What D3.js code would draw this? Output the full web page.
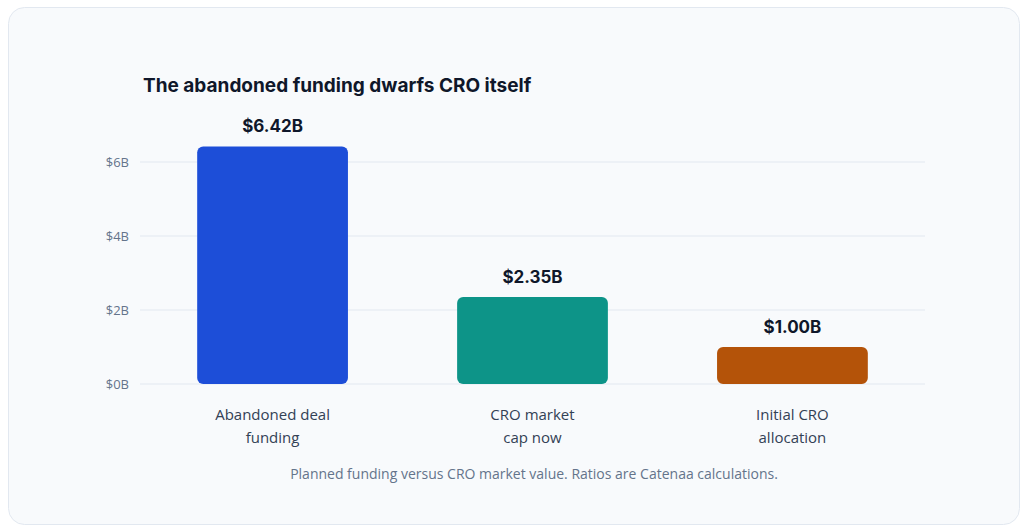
<!DOCTYPE html>
<html><head><meta charset="utf-8">
<script src="https://cdn.jsdelivr.net/npm/d3@7"></script>
<style>body{margin:0;background:#fff;font-family:"Open Sans",sans-serif}</style>
</head><body><svg id="c" width="1024" height="531"></svg>
<script>
const categories=[["Abandoned deal","funding"],["CRO market","cap now"],["Initial CRO","allocation"]];
const values=[6.42,2.35,1.00];
const valueLabels=["$6.42B","$2.35B","$1.00B"];
const colors=["#1d4ed8","#0d9488","#b45309"];
const ticks=[0,2,4,6];
const svg=d3.select("#c");
svg.append("rect").attr("x",8.5).attr("y",7.5).attr("width",1011).attr("height",517).attr("rx",16).attr("fill","#f8fafc").attr("stroke","#e2e8f0");
svg.append("text").attr("x",143).attr("y",92).attr("font-size",19).attr("font-weight",700).attr("fill","#0f172a").attr("font-family","Inter, sans-serif").text("The abandoned funding dwarfs CRO itself");
const x=d3.scaleBand().domain(d3.range(3)).range([140,925]).paddingInner(0.42).paddingOuter(0.22);
const y=d3.scaleLinear().domain([0,6]).range([384,162]);
const g=svg.append("g");
ticks.forEach(t=>{
 g.append("line").attr("x1",140).attr("x2",925).attr("y1",y(t)).attr("y2",y(t)).attr("stroke","#e2e8f0");
 g.append("text").attr("x",129).attr("y",y(t)).attr("dy","0.35em").attr("text-anchor","end").attr("font-size",13).attr("fill","#64748b").text("$"+t+"B");
});
values.forEach((v,i)=>{
 g.append("path").attr("fill",colors[i]).attr("d",()=>{
  const x0=x(i),w=x.bandwidth(),y0=y(v),h=y(0)-y(v),r=6;
  return `M${x0},${y0+r}a${r},${r} 0 0 1 ${r},${-r}h${w-2*r}a${r},${r} 0 0 1 ${r},${r}v${h-2*r}a${r},${r} 0 0 1 ${-r},${r}h${-(w-2*r)}a${r},${r} 0 0 1 ${-r},${-r}z`;});
 g.append("text").attr("x",x(i)+x.bandwidth()/2).attr("y",y(v)-14).attr("text-anchor","middle").attr("font-size",17).attr("font-weight",700).attr("fill","#0f172a").attr("font-family","Inter, sans-serif").text(valueLabels[i]);
 categories[i].forEach((l,j)=>g.append("text").attr("x",x(i)+x.bandwidth()/2).attr("y",420+j*23).attr("text-anchor","middle").attr("font-size",15).attr("fill","#334155").text(l));
});
svg.append("text").attr("x",534).attr("y",479).attr("text-anchor","middle").attr("font-size",14).attr("fill","#64748b").text("Planned funding versus CRO market value. Ratios are Catenaa calculations.");
</script></body></html>
